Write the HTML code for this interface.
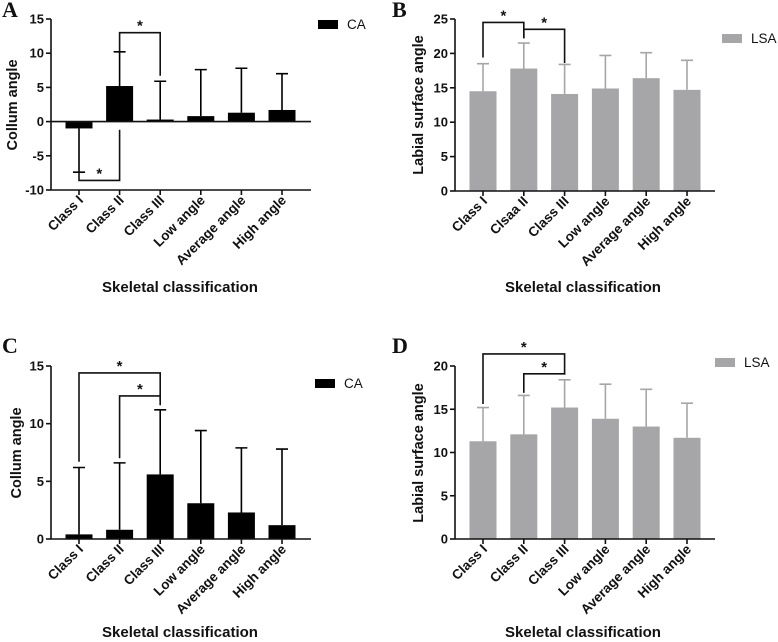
<!DOCTYPE html>
<html><head><meta charset="utf-8"><style>
body{margin:0;background:#fff}
svg{display:block}
text{font-family:"Liberation Sans",Arial,sans-serif;font-weight:bold;fill:#111}
</style></head><body>
<svg id="fig" width="778" height="642" viewBox="0 0 778 642"></svg>
<script>
const categoriesA = ["Class I","Class II","Class III","Low angle","Average angle","High angle"];
const categoriesB = ["Class I","Clsaa II","Class III","Low angle","Average angle","High angle"];
const valuesA = [-1.0, 5.2, 0.3, 0.8, 1.3, 1.7];
const errorsA = [-7.4, 10.2, 5.9, 7.6, 7.8, 7.0];
const valuesB = [14.5, 17.8, 14.1, 14.9, 16.4, 14.7];
const errorsB = [18.5, 21.5, 18.4, 19.7, 20.1, 19.0];
const valuesC = [0.4, 0.8, 5.6, 3.1, 2.3, 1.2];
const errorsC = [6.2, 6.6, 11.2, 9.4, 7.9, 7.8];
const valuesD = [11.3, 12.1, 15.2, 13.9, 13.0, 11.7];
const errorsD = [15.2, 16.6, 18.4, 17.9, 17.3, 15.7];
const ticksA = [-10,-5,0,5,10,15];
const ticksB = [0,5,10,15,20,25];
const ticksC = [0,5,10,15];
const ticksD = [0,5,10,15,20];
// brackets: [from index, to index, bracket value, left leg end value, right leg end value]
const bracketsA = [[1,2,13.0,10.2,6.7],[0,1,-8.6,-7.4,-1.2]];
const bracketsB = [[0,1,24.5,19.4,22.2],[1,2,23.5,22.2,18.6]];
const bracketsC = [[0,2,14.4,6.7,12.0],[1,2,12.4,7.0,11.6]];
const bracketsD = [[0,2,21.4,15.6,19.0],[1,2,19.1,16.9,19.0]];

const NS="http://www.w3.org/2000/svg";
const svg=document.getElementById('fig');
function mk(tag,attrs,parent,txt){const e=document.createElementNS(NS,tag);for(const k in attrs)e.setAttribute(k,attrs[k]);if(txt!==undefined)e.textContent=txt;(parent||svg).appendChild(e);return e;}

function panel(cfg){
  const g=mk('g',{});
  
  
  const y=v=>cfg.y0+(cfg.vmax-v)*(cfg.y1-cfg.y0)/(cfg.vmax-cfg.vmin);
  const x=i=>cfg.xc0+i*cfg.step;
  const lt=mk('text',{x:cfg.ox+2,y:cfg.letterY,'font-size':22,style:'font-family:"Liberation Serif",serif;font-weight:bold'},g,cfg.letter);
  
  
  cfg.values.forEach((v,i)=>{
    const top=Math.min(y(v),y(0)),h=Math.abs(y(v)-y(0));
    const b=mk('rect',{x:x(i)-13.5,y:top,width:27,height:Math.max(h,1.5),fill:cfg.color},g);
    
    
    const e=cfg.errs[i];
    const eb=mk('path',{d:`M${x(i)} ${y(v)}V${y(e)}M${x(i)-6} ${y(e)}H${x(i)+6}`,stroke:cfg.color,'stroke-width':1.6,fill:'none'},g);
    
    
  });
  const ax=mk('path',{d:`M${cfg.ax} ${cfg.y0}V${cfg.y1}`,stroke:'#111','stroke-width':1.6},g);
  
  
  const xa=mk('path',{d:`M${cfg.ax} ${y(0)}H${cfg.axEnd}`+(cfg.vmin<0?`M${cfg.ax} ${cfg.y1}H${cfg.axEnd}`:''),stroke:'#111','stroke-width':1.6},g);
  
  
  cfg.ticks.forEach(t=>{
    mk('path',{d:`M${cfg.ax-5} ${y(t)}H${cfg.ax}`,stroke:'#111','stroke-width':1.6},g);
    const tl=mk('text',{x:cfg.ax-7,y:y(t)+4.5,'font-size':13,'text-anchor':'end'},g,String(t));
    
    
  });
  const base=cfg.vmin<0?cfg.y1:y(0);
  cfg.cats.forEach((c,i)=>{
    mk('path',{d:`M${x(i)} ${base}V${base+5}`,stroke:'#111','stroke-width':1.6},g);
    const cl=mk('text',{x:x(i)+5,y:base+11,'font-size':13.5,'text-anchor':'end',transform:`rotate(-45 ${x(i)+5} ${base+11})`},g,c);
    
    
  });
  const yt=mk('text',{x:cfg.ytX,y:cfg.ytY,'font-size':14.5,'text-anchor':'middle',transform:`rotate(-90 ${cfg.ytX} ${cfg.ytY})`},g,cfg.ytitle);
  
  
  const xt=mk('text',{x:cfg.xtX,y:cfg.xtY,'font-size':15,'text-anchor':'middle'},g,'Skeletal classification');
  
  
  cfg.brackets.forEach(b=>{
    const [i,j,v,l,r]=b;
    const p=mk('path',{d:`M${x(i)} ${y(l)}V${y(v)}H${x(j)}V${y(r)}`,stroke:'#111','stroke-width':1.6,fill:'none'},g);
    
    
    const s=mk('text',{x:(x(i)+x(j))/2,y:y(v)-2,'font-size':15,'text-anchor':'middle'},g,'*');
    
    
  });
  const lr=mk('rect',{x:cfg.legX,y:cfg.legY,width:20,height:9,fill:cfg.color},g);
  
  
  const ltx=mk('text',{x:cfg.legX+29,y:cfg.legY+9,'font-size':13.5,style:'font-weight:normal'},g,cfg.legend);
  
  
}

panel({letter:'A',ox:0,letterY:17,cats:categoriesA,values:valuesA,errs:errorsA,ticks:ticksA,brackets:bracketsA,
  vmin:-10,vmax:15,y0:19,y1:190,ax:51,axEnd:311,xc0:79,step:40.6,color:'#000',
  ytitle:'Collum angle',ytX:17,ytY:105,xtX:180,xtY:292,legX:318,legY:20,legend:'CA'});
panel({letter:'B',ox:390,letterY:17,cats:categoriesB,values:valuesB,errs:errorsB,ticks:ticksB,brackets:bracketsB,
  vmin:0,vmax:25,y0:19,y1:191,ax:455,axEnd:715,xc0:483,step:40.8,color:'#a6a6a8',
  ytitle:'Labial surface angle',ytX:423,ytY:105,xtX:583,xtY:292,legX:722,legY:34,legend:'LSA'});
panel({letter:'C',ox:0,letterY:353,cats:categoriesA,values:valuesC,errs:errorsC,ticks:ticksC,brackets:bracketsC,
  vmin:0,vmax:15,y0:366,y1:539,ax:51,axEnd:311,xc0:79,step:40.6,color:'#000',
  ytitle:'Collum angle',ytX:21,ytY:453,xtX:180,xtY:637,legX:315,legY:379,legend:'CA'});
panel({letter:'D',ox:390,letterY:353,cats:categoriesA,values:valuesD,errs:errorsD,ticks:ticksD,brackets:bracketsD,
  vmin:0,vmax:20,y0:366,y1:539,ax:455,axEnd:715,xc0:483,step:40.8,color:'#a6a6a8',
  ytitle:'Labial surface angle',ytX:423,ytY:453,xtX:583,xtY:637,legX:715,legY:358,legend:'LSA'});
</script>
</body></html>
